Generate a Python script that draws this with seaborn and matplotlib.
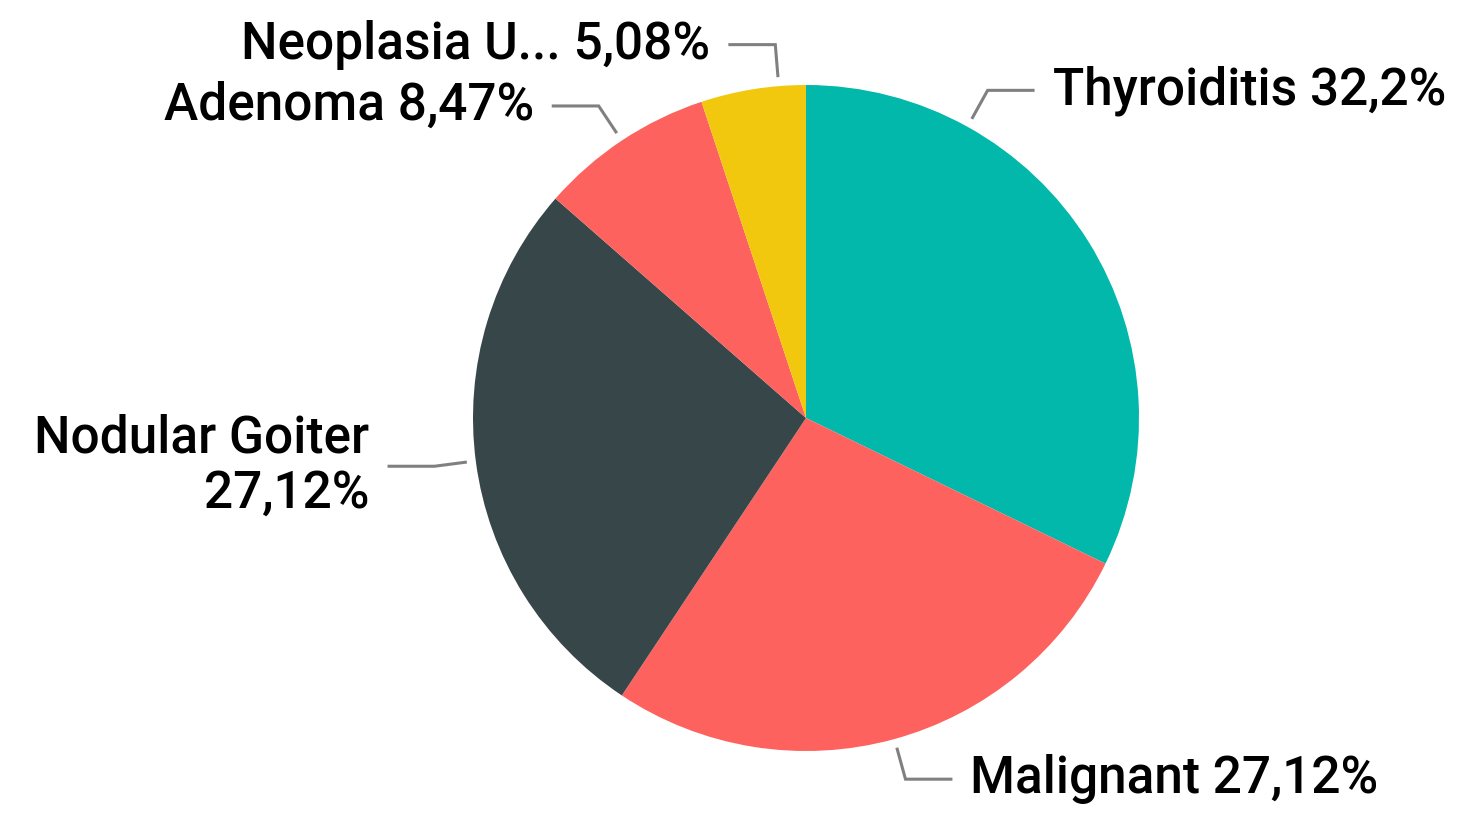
import numpy as np
import matplotlib.pyplot as plt
import seaborn as sns

# slice data, clockwise from 12 o'clock
categories = ["Thyroiditis", "Malignant", "Nodular Goiter", "Adenoma", "Neoplasia U..."]
shares = [32.2, 27.12, 27.12, 8.47, 5.08]
pct_labels = ["32,2%", "27,12%", "27,12%", "8,47%", "5,08%"]

colors = ["#01B8AA", "#FD625E", "#374649", "#FD625E", "#F2C80F"]
# where the leader line leaves the rim (degrees, ccw from 3 o'clock)
leader_deg = [61.0, -74.6, 187.4, 123.6, 94.7]

sns.set_theme(style="white")
plt.rcParams["font.family"] = ["Roboto", "DejaVu Sans"]

W, H = 1460, 814
R = 333.0
cx, cy = 806, 418

fig = plt.figure(figsize=(W / 100, H / 100), dpi=100)
ax = fig.add_axes([0, 0, 1, 1])
ax.pie(shares, colors=colors, startangle=90, counterclock=False, radius=1,
       wedgeprops=dict(linewidth=0))
ax.set_xlim(-cx / R, (W - cx) / R)
ax.set_ylim(-(H - cy) / R, cy / R)
ax.set_aspect("equal")
ax.axis("off")

line_col = "#808080"
for i, (cat, pct) in enumerate(zip(categories, pct_labels)):
    a = np.deg2rad(leader_deg[i])
    x0, y0 = 1.027 * np.cos(a), 1.027 * np.sin(a)
    x1, y1 = 1.125 * np.cos(a), 1.125 * np.sin(a)
    side = 1 if np.cos(a) >= 0 else -1
    x2 = x1 + side * 0.141
    ax.plot([x0, x1, x2], [y0, y1, y1], color=line_col, lw=2.2,
            solid_capstyle="butt", solid_joinstyle="miter")
    txt = f"{cat} {pct}" if cat != "Nodular Goiter" else f"{cat}\n{pct}"
    ax.text(x2 + side * 0.054, y1, txt, ha="left" if side > 0 else "right",
            va="center", fontsize=37, fontweight="medium", color="black",
            multialignment="right", linespacing=1.15)

fig.savefig("out.png", dpi=100)
